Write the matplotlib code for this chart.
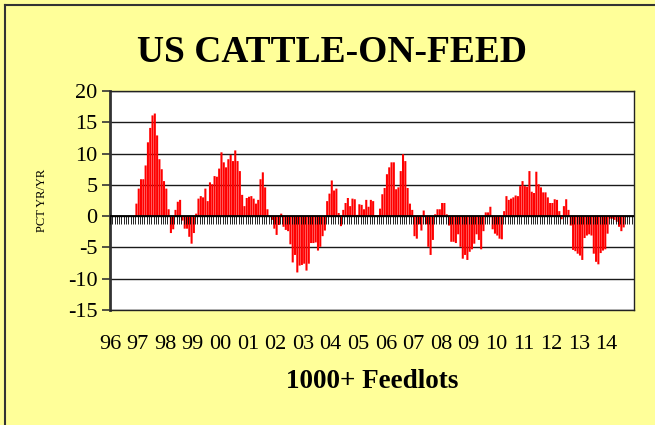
import numpy as np
from matplotlib import pyplot as plt
from matplotlib.lines import Line2D

nan = np.nan

# year-over-year change, percent, one value per month (Jan..Dec)
pct_1996 = [nan, nan, nan, nan, nan, nan, nan, nan, nan, nan, nan, 2.0]
pct_1997 = [4.4, 5.9, 5.9, 8.1, 11.8, 14.1, 16.1, 16.4, 12.9, 9.1, 7.5, 5.6]
pct_1998 = [4.4, 1.1, -2.7, -2.1, 1.0, 2.3, 2.6, -0.7, -2.0, -2.0, -3.3, -4.4]
pct_1999 = [-2.7, 0.4, 2.8, 3.2, 3.0, 4.4, 2.4, 5.4, 5.1, 6.4, 6.3, 7.6]
pct_2000 = [10.2, 8.6, 7.8, 9.1, 9.8, 8.8, 10.5, 8.8, 7.2, 3.4, 1.6, 2.9]
pct_2001 = [3.1, 3.2, 2.8, 2.0, 2.6, 5.9, 7.0, 4.6, 1.1, -0.1, -0.6, -2.0]
pct_2002 = [-3.0, -1.4, 0.4, -1.7, -2.2, -2.4, -4.5, -7.4, -6.2, -9.0, -7.9, -7.8]
pct_2003 = [-7.6, -8.7, -7.6, -4.3, -4.3, -4.2, -5.5, -4.9, -3.2, -2.3, 2.4, 3.6]
pct_2004 = [5.7, 4.1, 4.4, 0.5, -1.6, 1.0, 2.1, 2.9, 1.6, 2.8, 2.7, 0.2]
pct_2005 = [1.9, 1.8, 1.1, 2.6, 1.5, 2.6, 2.4, 0.1, 0.1, 1.2, 3.5, 4.5]
pct_2006 = [6.7, 7.8, 8.6, 8.6, 4.3, 4.6, 7.2, 9.9, 8.8, 4.5, 2.0, 1.0]
pct_2007 = [-3.2, -3.6, -1.3, -2.3, 0.9, -1.3, -4.9, -6.2, -3.8, 0.3, 1.1, 1.1]
pct_2008 = [2.1, 2.1, 0.3, -1.5, -4.1, -4.1, -4.3, -2.9, -4.9, -6.8, -6.2, -7.0]
pct_2009 = [-5.7, -5.3, -4.4, -2.9, -3.8, -5.3, -2.4, 0.6, 0.6, 1.5, -2.1, -2.8]
pct_2010 = [-3.1, -3.6, -3.7, 0.8, 3.2, 2.6, 2.8, 3.0, 3.3, 3.2, 4.8, 5.6]
pct_2011 = [4.8, 4.7, 7.2, 3.9, 3.7, 7.1, 5.1, 4.6, 3.8, 3.8, 3.0, 2.1]
pct_2012 = [2.1, 2.7, 2.6, 0.8, -0.5, 1.6, 2.7, 1.0, -1.5, -5.4, -5.6, -6.0]
pct_2013 = [-6.3, -7.0, -3.5, -3.1, -2.9, -3.1, -6.0, -7.3, -7.7, -5.9, -5.5, -5.3]
pct_2014 = [-2.8, -0.4, -0.4, -0.6, -0.9, -1.7, -2.4, -1.8, nan, nan, nan, nan]

year_labels = ["96", "97", "98", "99", "00", "01", "02", "03", "04", "05",
               "06", "07", "08", "09", "10", "11", "12", "13", "14"]

values = np.array(pct_1996 + pct_1997 + pct_1998 + pct_1999 + pct_2000
                  + pct_2001 + pct_2002 + pct_2003 + pct_2004 + pct_2005
                  + pct_2006 + pct_2007 + pct_2008 + pct_2009 + pct_2010
                  + pct_2011 + pct_2012 + pct_2013 + pct_2014)
months = np.arange(len(values))

plt.rcParams['font.family'] = ['Liberation Serif', 'DejaVu Serif']

fig = plt.figure(figsize=(6.55, 4.25), dpi=100, facecolor="#FFFF99")
ax = fig.add_axes([110 / 655, 115 / 425, 524 / 655, 219 / 425])
ax.set_facecolor("white")

for y in range(-15, 21, 5):
    ax.axhline(y, color="#1a1a1a", lw=1.0, zorder=1)

ax.bar(months, values, width=0.9, color="#FF0000", edgecolor="none",
       snap=False, zorder=2)

# zero axis with a tick between every month
ax.axhline(0, color="black", lw=1.3, zorder=3)
ax.vlines(months - 0.5, -1.2, 0, color="black", lw=0.6, zorder=3)

ax.set_xlim(-0.5, 227.5)
ax.set_ylim(-15, 20)
ax.set_yticks(range(-15, 21, 5))
ax.set_yticklabels([str(v) for v in range(-15, 21, 5)], fontsize=16)
ax.tick_params(axis="y", length=6, width=1.2, color="#333333", pad=3)

ax.set_xticks(np.arange(len(year_labels)) * 12 - 0.5)
ax.set_xticklabels(year_labels, fontsize=16)
ax.tick_params(axis="x", length=0, pad=18)

for side in ["top", "right", "bottom"]:
    ax.spines[side].set_linewidth(1.0)
    ax.spines[side].set_color("#222222")
ax.spines["left"].set_linewidth(2.0)
ax.spines["left"].set_color("#333333")

fig.text(332 / 655, 1 - 53 / 425, "US CATTLE-ON-FEED", fontsize=27,
         fontweight="bold", ha="center", va="center")
fig.text(42 / 655, 1 - 200 / 425, "PCT YR/YR", fontsize=9, rotation=90,
         ha="center", va="center")
fig.text(372 / 655, 1 - 381 / 425, "1000+ Feedlots", fontsize=19.5,
         fontweight="bold", ha="center", va="center")

# chart border, only the top and left edges are in view
fig.add_artist(Line2D([4.5 / 655, 4.5 / 655], [0, 1 - 4.5 / 425],
                      transform=fig.transFigure, color="#333333", lw=1.5))
fig.add_artist(Line2D([4.5 / 655, 1], [1 - 4.5 / 425, 1 - 4.5 / 425],
                      transform=fig.transFigure, color="#333333", lw=1.5))

fig.savefig("out.png", dpi=100, facecolor=fig.get_facecolor())
plt.close(fig)
